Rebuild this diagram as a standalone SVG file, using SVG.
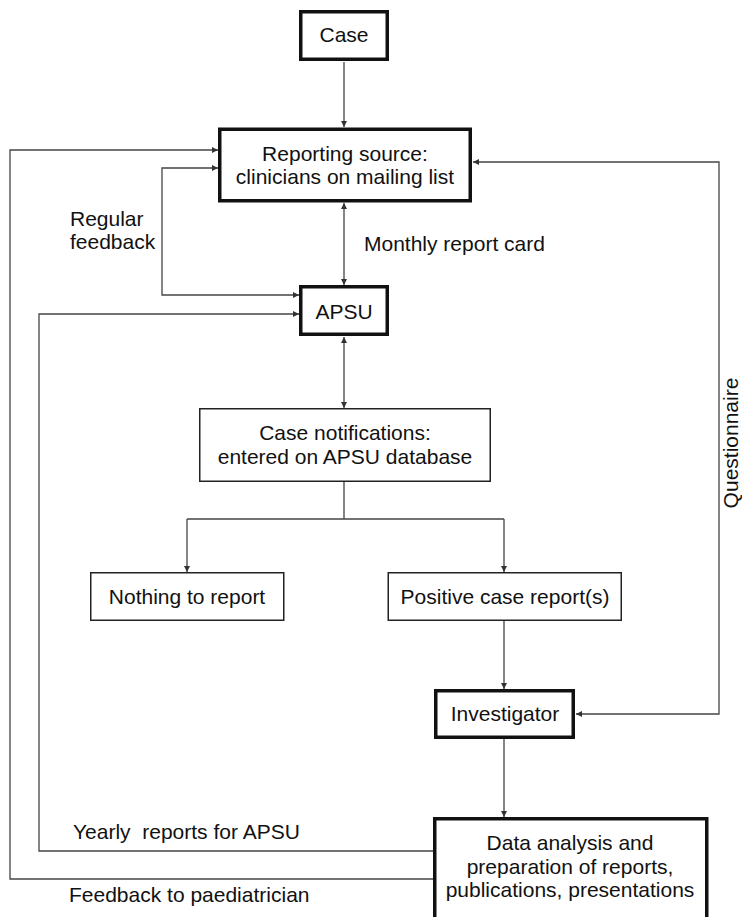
<svg xmlns="http://www.w3.org/2000/svg" width="742" height="917" viewBox="0 0 742 917">
<style>
.bg{fill:#fff}
.thick{fill:#fff;stroke:#111;stroke-width:3.5}
.thin{fill:#fff;stroke:#222;stroke-width:1.5}
.t{font-family:"Liberation Sans",Arial,sans-serif;font-size:21px;fill:#111}
.c{text-anchor:middle}
.ln{fill:none;stroke:#444;stroke-width:1.3}
</style>
<defs>
<marker id="ah" viewBox="0 0 10 10" refX="10" refY="5" markerUnits="userSpaceOnUse" markerWidth="9" markerHeight="6" orient="auto-start-reverse">
<path d="M0,0 L10,5 L0,10 z" fill="#333"/>
</marker>
</defs>
<rect class="bg" x="0" y="0" width="742" height="917"/>
<g id="connectors">
<path class="ln" d="M344,62 V127" marker-end="url(#ah)"/>
<path class="ln" d="M344,203 V285" marker-start="url(#ah)" marker-end="url(#ah)"/>
<path class="ln" d="M218,168 H162 V295 H299" marker-start="url(#ah)" marker-end="url(#ah)"/>
<path class="ln" d="M433,879 H10 V150 H218" marker-end="url(#ah)"/>
<path class="ln" d="M433,851 H39 V314 H299" marker-end="url(#ah)"/>
<path class="ln" d="M473,162 H719 V714 H576" marker-start="url(#ah)" marker-end="url(#ah)"/>
<path class="ln" d="M344,337 V408" marker-start="url(#ah)" marker-end="url(#ah)"/>
<path class="ln" d="M344,482 V519 M187,519 H504"/>
<path class="ln" d="M187,519 V572" marker-end="url(#ah)"/>
<path class="ln" d="M504,519 V572" marker-end="url(#ah)"/>
<path class="ln" d="M504,621 V689" marker-end="url(#ah)"/>
<path class="ln" d="M504,739 V817" marker-end="url(#ah)"/>
</g>
<g id="labels">
<text class="t" x="70" y="226">Regular</text>
<text class="t" x="70" y="249">feedback</text>
<text class="t" x="364" y="251">Monthly report card</text>
<text class="t" x="73" y="839" xml:space="preserve">Yearly  reports for APSU</text>
<text class="t" x="69" y="902">Feedback to paediatrician</text>
<text class="t c" transform="translate(738,443) rotate(-90)">Questionnaire</text>
</g>
<g id="case">
<rect class="thick" x="300.75" y="11.75" width="86.5" height="47.5"/>
<text class="t c" x="344" y="42">Case</text>
</g>
<g id="reporting">
<rect class="thick" x="219.75" y="129.25" width="250.5" height="71.5"/>
<text class="t c" x="345" y="161">Reporting source:</text>
<text class="t c" x="345" y="184">clinicians on mailing list</text>
</g>
<g id="apsu">
<rect class="thick" x="300.75" y="286.75" width="86.5" height="47.5"/>
<text class="t c" x="344" y="319">APSU</text>
</g>
<g id="notifications">
<rect class="thin" x="199.75" y="408.75" width="290.5" height="72.5"/>
<text class="t c" x="345" y="440">Case notifications:</text>
<text class="t c" x="345" y="464">entered on APSU database</text>
</g>
<g id="nothing">
<rect class="thin" x="90.75" y="572.75" width="193" height="47.5"/>
<text class="t c" x="187" y="604">Nothing to report</text>
</g>
<g id="positive">
<rect class="thin" x="388.25" y="572.75" width="233" height="47.5"/>
<text class="t c" x="505" y="604">Positive case report(s)</text>
</g>
<g id="investigator">
<rect class="thick" x="435.75" y="690.75" width="137.5" height="46.5"/>
<text class="t c" x="505" y="721">Investigator</text>
</g>
<g id="analysis">
<rect class="thick" x="434.75" y="818.75" width="272" height="120"/>
<text class="t c" x="570" y="850">Data analysis and</text>
<text class="t c" x="570" y="874">preparation of reports,</text>
<text class="t c" x="570" y="897">publications, presentations</text>
</g>
</svg>
